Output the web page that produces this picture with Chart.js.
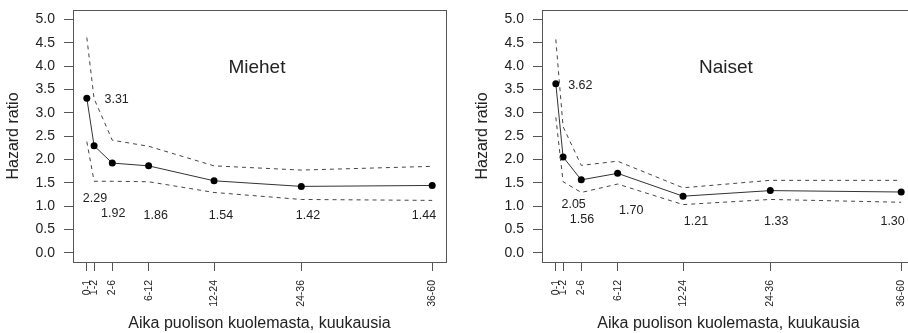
<!DOCTYPE html>
<html lang="fi">
<head>
    <meta charset="UTF-8">
    <title>Hazard ratio</title>
    <style>
        html, body { margin: 0; padding: 0; background: #fff; overflow: hidden; width: 908px; height: 333px; }
        .panel { position: absolute; top: 0; width: 460px; height: 333px; }
        #p1 { left: 0; }
        #p2 { left: 469px; }
    </style>
    <script src="https://cdn.jsdelivr.net/npm/chart.js"></script>
</head>
<body>
    <div class="panel" id="p1"><canvas id="miehet" width="460" height="333"></canvas></div>
    <div class="panel" id="p2"><canvas id="naiset" width="460" height="333"></canvas></div>

    <script>
        // time since spouse's death (months), plotted at interval midpoints
        const periods = ['0-1', '1-2', '2-6', '6-12', '12-24', '24-36', '36-60'];
        const periodMid = [0.5, 1.5, 4, 9, 18, 30, 48];
        const yTicks = [0, 0.5, 1, 1.5, 2, 2.5, 3, 3.5, 4, 4.5, 5];

        // men
        const hrMen = [3.31, 2.29, 1.92, 1.86, 1.54, 1.42, 1.44];
        const upperMen = [4.61, 3.30, 2.41, 2.28, 1.86, 1.77, 1.85];
        const lowerMen = [2.38, 1.53, 1.53, 1.52, 1.29, 1.14, 1.12];

        // women
        const hrWomen = [3.62, 2.05, 1.56, 1.70, 1.21, 1.33, 1.30];
        const upperWomen = [4.57, 2.70, 1.87, 1.96, 1.39, 1.55, 1.55];
        const lowerWomen = [2.90, 1.52, 1.29, 1.47, 1.03, 1.14, 1.08];

        // where the value labels sit (data coordinates)
        const labelPosMen = [[4.6, 3.29], [1.63, 1.15], [4.14, 0.84], [9.97, 0.79], [18.95, 0.79], [30.92, 0.79], [46.87, 0.79]];
        const labelPosWomen = [[3.87, 3.58], [2.95, 1.04], [4.1, 0.70], [10.88, 0.91], [19.78, 0.66], [30.82, 0.66], [46.82, 0.66]];
        const titlePos = [23.9, 3.96];

        const FONT = '"Liberation Sans", Arial, sans-serif';
        const AXIS = '#555';

        function pts(vals) {
            return vals.map((v, i) => ({ x: periodMid[i], y: v }));
        }

        const panelText = {
            id: 'panelText',
            afterDatasetsDraw(chart, args, opts) {
                const ctx = chart.ctx;
                const xs = chart.scales.x, ys = chart.scales.y;
                const a = chart.chartArea;
                ctx.save();
                ctx.strokeStyle = AXIS;
                ctx.lineWidth = 1;
                ctx.strokeRect(a.left + 0.5, a.top + 0.5, a.right - a.left, a.bottom - a.top);
                ctx.fillStyle = '#222';
                ctx.textAlign = 'center';
                ctx.textBaseline = 'middle';
                ctx.font = '12.5px ' + FONT;
                opts.values.forEach((v, i) => {
                    const p = opts.pos[i];
                    ctx.fillText(v.toFixed(2), xs.getPixelForValue(p[0]), ys.getPixelForValue(p[1]));
                });
                ctx.font = '19px ' + FONT;
                ctx.fillText(opts.title, xs.getPixelForValue(titlePos[0]), ys.getPixelForValue(titlePos[1]));
                ctx.restore();
            }
        };

        function makeChart(id, title, hr, upper, lower, labelPos) {
            const ctx = document.getElementById(id).getContext('2d');
            return new Chart(ctx, {
                type: 'line',
                data: {
                    datasets: [
                        {
                            data: pts(upper),
                            borderColor: '#444',
                            borderWidth: 1,
                            borderDash: [4, 4],
                            pointRadius: 0,
                            fill: false
                        },
                        {
                            data: pts(lower),
                            borderColor: '#444',
                            borderWidth: 1,
                            borderDash: [4, 4],
                            pointRadius: 0,
                            fill: false
                        },
                        {
                            data: pts(hr),
                            borderColor: '#333',
                            borderWidth: 1,
                            pointRadius: 3.5,
                            pointBackgroundColor: '#000',
                            pointBorderColor: '#000',
                            pointBorderWidth: 0,
                            fill: false
                        }
                    ]
                },
                options: {
                    responsive: false,
                    animation: false,
                    devicePixelRatio: 1,
                    layout: { padding: { left: 0, top: 10, right: 14, bottom: 0 } },
                    plugins: {
                        legend: { display: false },
                        tooltip: { enabled: false },
                        panelText: { title: title, values: hr, pos: labelPos }
                    },
                    scales: {
                        x: {
                            type: 'linear',
                            min: -1.4,
                            max: 49.9,
                            afterBuildTicks: s => { s.ticks = periodMid.map(v => ({ value: v })); },
                            afterFit: s => { s.height = 71; s.paddingLeft = 0; s.paddingRight = 0; },
                            grid: { display: true, drawOnChartArea: false, drawTicks: true, tickLength: 9, color: AXIS },
                            border: { display: true, color: AXIS },
                            ticks: {
                                autoSkip: false,
                                minRotation: 90,
                                maxRotation: 90,
                                padding: 9,
                                color: '#222',
                                font: { family: FONT, size: 10.5 },
                                callback: (v, i) => periods[i]
                            },
                            title: {
                                display: true,
                                text: 'Aika puolison kuolemasta, kuukausia',
                                color: '#222',
                                font: { family: FONT, size: 16 },
                                padding: { top: 0, bottom: 0 }
                            }
                        },
                        y: {
                            min: -0.2,
                            max: 5.2,
                            afterBuildTicks: s => { s.ticks = yTicks.map(v => ({ value: v })); },
                            afterFit: s => { s.width = 73; s.paddingTop = 0; s.paddingBottom = 0; },
                            grid: { display: true, drawOnChartArea: false, drawTicks: true, tickLength: 9, color: AXIS },
                            border: { display: true, color: AXIS },
                            ticks: {
                                padding: 9,
                                color: '#222',
                                font: { family: FONT, size: 14 },
                                callback: v => v.toFixed(1)
                            },
                            title: {
                                display: true,
                                text: 'Hazard ratio',
                                color: '#222',
                                font: { family: FONT, size: 16 },
                                padding: { top: 4, bottom: 0 }
                            }
                        }
                    }
                },
                plugins: [panelText]
            });
        }

        makeChart('miehet', 'Miehet', hrMen, upperMen, lowerMen, labelPosMen);
        makeChart('naiset', 'Naiset', hrWomen, upperWomen, lowerWomen, labelPosWomen);
    </script>
</body>
</html>
